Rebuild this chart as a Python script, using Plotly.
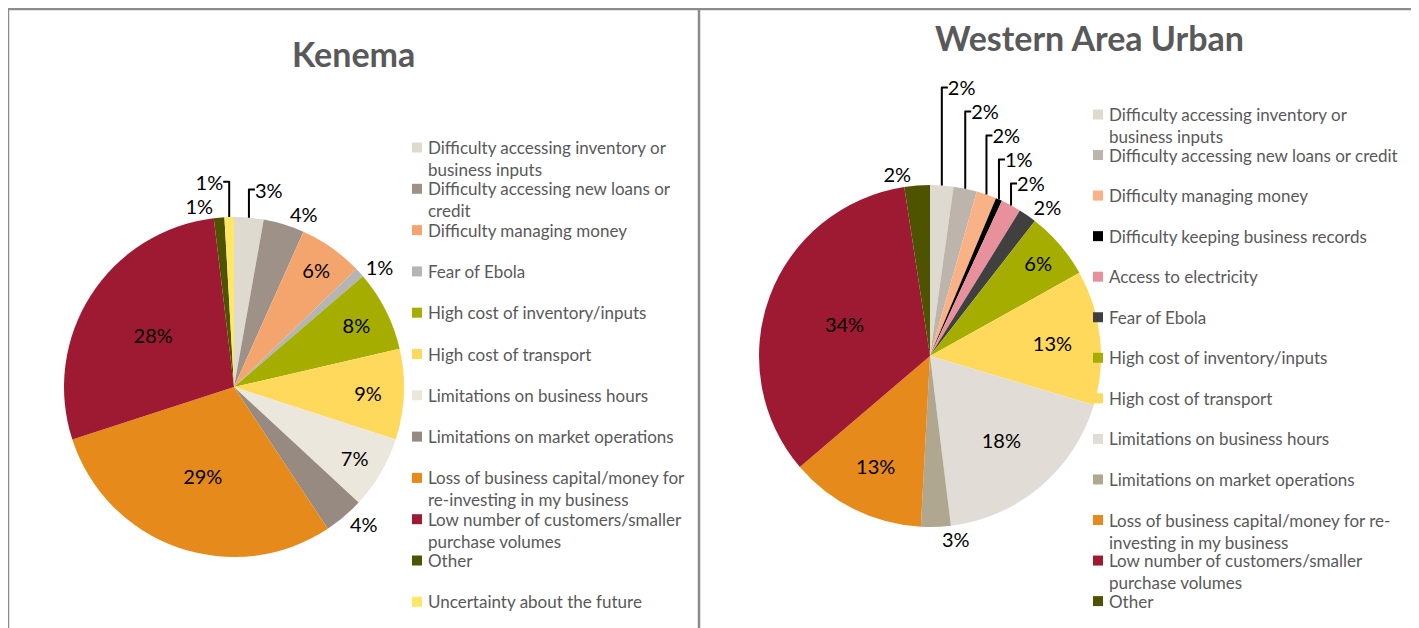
import plotly.graph_objects as go

W, H = 1419, 628
OFF = 8  # the page body adds an 8px margin

# Kenema
kenema_labels = [
    "Difficulty accessing inventory or<br>business inputs",
    "Difficulty accessing new loans or<br>credit",
    "Difficulty managing money",
    "Fear of Ebola",
    "High cost of inventory/inputs",
    "High cost of transport",
    "Limitations on business hours",
    "Limitations on market operations",
    "Loss of business capital/money for<br>re-investing in my business",
    "Low number of customers/smaller<br>purchase volumes",
    "Other",
    "Uncertainty about the future",
]
kenema_values = [2.8, 3.9, 6.1, 0.9, 7.7, 8.6, 6.9, 3.8, 29.3, 28.1, 1.0, 0.9]
kenema_colors = ["#dedad0", "#9e9188", "#f4a56e", "#b5b5b5", "#a4ad00", "#ffd95c",
                 "#ece7dc", "#978a80", "#e68a1b", "#9e1a32", "#4e5300", "#ffe766"]
kenema_pos = ["outside", "outside", "inside", "outside", "inside", "inside",
              "inside", "outside", "inside", "inside", "outside", "outside"]

# Western Area Urban
wau_labels = [
    "Difficulty accessing inventory or<br>business inputs",
    "Difficulty accessing new loans or credit",
    "Difficulty managing money",
    "Difficulty keeping business records",
    "Access to electricity",
    "Fear of Ebola",
    "High cost of inventory/inputs",
    "High cost of transport",
    "Limitations on business hours",
    "Limitations on market operations",
    "Loss of business capital/money for re-<br>investing in my business",
    "Low number of customers/smaller<br>purchase volumes",
    "Other",
]
wau_values = [2.2, 2.2, 1.9, 0.6, 1.9, 1.7, 6.4, 12.7, 18.4, 2.8, 12.9, 33.8, 2.4]
wau_colors = ["#dedad0", "#bdb4ac", "#f9b186", "#000000", "#e8919d", "#404040",
              "#a4ad00", "#ffd95c", "#e2dcd7", "#b0a790", "#e68a1b", "#9e1a32", "#4e5300"]
wau_pos = ["outside", "outside", "outside", "outside", "outside", "outside",
           "inside", "inside", "inside", "outside", "inside", "inside", "outside"]

FONT = "Lato"
GREY = "#595959"


def px_x(x):
    return (x - OFF) / W


def px_y(y):
    return 1 - (y - OFF) / H


fig = go.Figure()

fig.add_trace(go.Pie(
    labels=kenema_labels, values=kenema_values, sort=False, direction="clockwise",
    rotation=0, marker=dict(colors=kenema_colors, line=dict(width=0)),
    textinfo="percent", texttemplate="%{percent:.0%}", textposition=kenema_pos,
    textfont=dict(family=FONT, size=20, color="#000000"),
    domain=dict(x=[px_x(64), px_x(404)], y=[px_y(557), px_y(217)]),
    showlegend=False, hoverinfo="label+percent",
))

fig.add_trace(go.Pie(
    labels=wau_labels, values=wau_values, sort=False, direction="clockwise",
    rotation=0, marker=dict(colors=wau_colors, line=dict(width=0)),
    textinfo="percent", texttemplate="%{percent:.0%}", textposition=wau_pos,
    textfont=dict(family=FONT, size=20, color="#000000"),
    domain=dict(x=[px_x(759), px_x(1101)], y=[px_y(527), px_y(185)]),
    showlegend=False, hoverinfo="label+percent",
))

annotations = [
    dict(text="<b>Kenema</b>", x=px_x(353), y=px_y(53), xref="paper", yref="paper",
         xanchor="center", yanchor="middle",
         showarrow=False, font=dict(family=FONT, size=34, color=GREY)),
    dict(text="<b>Western Area Urban</b>", x=px_x(1089), y=px_y(37), xref="paper", yref="paper",
         xanchor="center", yanchor="middle",
         showarrow=False, font=dict(family=FONT, size=34, color=GREY)),
]
shapes = []

# frame
for x0, y0, x1, y1 in [(7, 9, 1414, 9), (8, 9, 8, H + 20), (699, 9, 699, H + 20), (1413, 9, 1413, H + 20)]:
    shapes.append(dict(type="line", xref="paper", yref="paper",
                       x0=px_x(x0), y0=px_y(y0), x1=px_x(x1), y1=px_y(y1),
                       line=dict(color="#8c8c8c", width=2.5)))


def add_legend(labels, colors, sq_x, first_y, step):
    for i, (lab, col) in enumerate(zip(labels, colors)):
        yc = first_y + i * step
        shapes.append(dict(type="rect", xref="paper", yref="paper",
                           x0=px_x(sq_x), x1=px_x(sq_x + 10), y0=px_y(yc - 5), y1=px_y(yc + 5),
                           fillcolor=col, line=dict(width=0)))
        # one annotation per line so the line spacing follows the reference
        for j, line in enumerate(lab.split("<br>")):
            annotations.append(dict(text=line, x=px_x(sq_x + 14), y=px_y(yc + j * 22),
                                    xref="paper", yref="paper", xanchor="left", yanchor="middle",
                                    align="left", showarrow=False,
                                    font=dict(family=FONT, size=17, color=GREY)))


add_legend(kenema_labels, kenema_colors, 412, 147.5, 41.3)
add_legend(wau_labels, wau_colors, 1093, 114.5, 40.55)

fig.update_layout(
    width=W, height=H, margin=dict(l=0, r=0, t=0, b=0),
    paper_bgcolor="white", plot_bgcolor="white",
    annotations=annotations, shapes=shapes,
)

fig.write_html("out.html")
